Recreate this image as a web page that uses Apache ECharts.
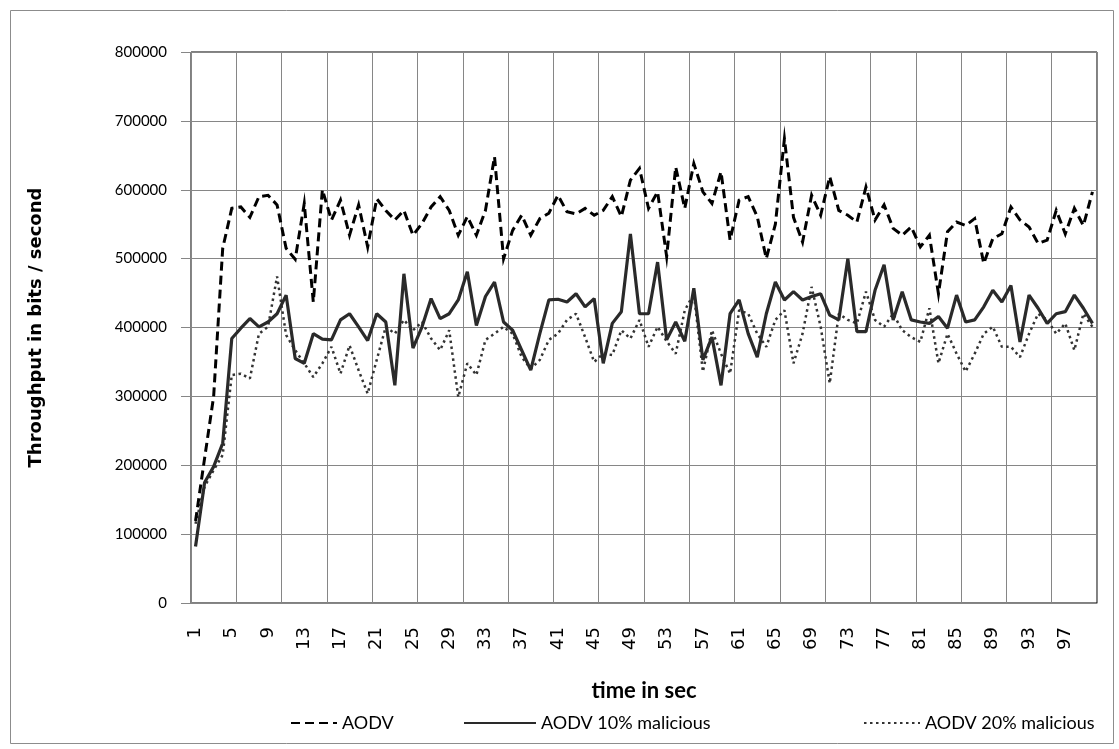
<!DOCTYPE html>
<html>
<head>
<meta charset="utf-8">
<script src="https://cdn.jsdelivr.net/npm/echarts@6/dist/echarts.min.js"></script>
<style>
html,body{margin:0;padding:0;background:#fff;}
#chart{width:1119px;height:749px;}
</style>
</head>
<body>
<div id="chart"></div>
<script>
const categories = [1,2,3,4,5,6,7,8,9,10,11,12,13,14,15,16,17,18,19,20,21,22,23,24,25,26,27,28,29,30,31,32,33,34,35,36,37,38,39,40,41,42,43,44,45,46,47,48,49,50,51,52,53,54,55,56,57,58,59,60,61,62,63,64,65,66,67,68,69,70,71,72,73,74,75,76,77,78,79,80,81,82,83,84,85,86,87,88,89,90,91,92,93,94,95,96,97,98,99,100];

const aodv = [119000,210000,300000,515000,573000,575000,560000,590000,592000,578000,
  515000,499000,580000,437000,600000,556000,585000,534000,578000,517000,
  587000,570000,556000,570000,534000,551000,575000,590000,570000,534000,
  561000,534000,570000,648000,500000,541000,563000,534000,558000,566000,
  592000,568000,565000,573000,563000,570000,590000,561000,614000,631000,
  573000,597000,503000,633000,573000,638000,597000,580000,626000,527000,
  585000,590000,561000,500000,550000,674000,560000,524000,592000,563000,
  619000,570000,563000,553000,604000,556000,578000,544000,534000,546000,
  517000,534000,449000,539000,553000,548000,558000,493000,529000,536000,
  575000,556000,546000,522000,527000,570000,536000,573000,548000,597000];

const aodv10 = [82000,175000,198000,232000,384000,399000,413000,401000,408000,420000,
  447000,355000,348000,391000,383000,382000,411000,420000,401000,381000,
  420000,408000,316000,478000,370000,401000,442000,413000,420000,440000,
  481000,403000,445000,466000,408000,396000,367000,338000,391000,440000,
  441000,437000,449000,430000,442000,348000,406000,423000,536000,420000,
  420000,495000,382000,408000,380000,457000,353000,386000,316000,420000,
  440000,391000,357000,420000,466000,440000,452000,440000,445000,449000,
  418000,411000,500000,394000,394000,454000,491000,411000,452000,411000,
  408000,406000,416000,399000,447000,408000,411000,430000,454000,437000,
  461000,379000,447000,428000,406000,420000,423000,447000,428000,406000];

const aodv20 = [115000,169000,193000,215000,331000,333000,326000,391000,401000,474000,
  389000,367000,348000,328000,348000,372000,333000,374000,338000,304000,
  353000,401000,391000,411000,396000,408000,384000,367000,396000,299000,
  348000,331000,382000,391000,401000,391000,357000,340000,353000,382000,
  391000,411000,420000,386000,350000,362000,360000,396000,384000,411000,
  372000,401000,380000,362000,425000,449000,336000,396000,362000,333000,
  425000,420000,391000,372000,411000,425000,348000,391000,459000,401000,
  319000,420000,411000,406000,452000,411000,401000,420000,396000,386000,
  379000,428000,348000,391000,362000,336000,362000,391000,401000,372000,
  372000,357000,391000,420000,411000,391000,406000,367000,420000,401000];

const yTicks = [0,100000,200000,300000,400000,500000,600000,700000,800000];
const seriesNames = ['AODV','AODV 10% malicious','AODV 20% malicious'];

const SANS = 'Lato, "Open Sans", sans-serif';
const WIDE = '"DejaVu Sans", Lato, sans-serif';
const chart = echarts.init(document.getElementById('chart'), null, {renderer:'canvas'});

const legendText = {fontFamily:SANS,fontSize:18,color:'#000'};
const legendIconStyle = {color:'rgba(0,0,0,0)',borderWidth:0,borderColor:'rgba(0,0,0,0)'};

const option = {
  backgroundColor:'#ffffff',
  animation:false,
  graphic:[{
    type:'rect', left:8, top:8, silent:true,
    shape:{width:1103,height:733},
    style:{fill:'none',stroke:'#8c8c8c',lineWidth:1}
  }],
  grid:{left:191,top:52,right:22,bottom:146,show:true,borderColor:'#000',borderWidth:1,backgroundColor:'transparent'},
  legend:[
    {data:[seriesNames[0]],left:285,top:709,itemWidth:46,itemHeight:14,itemGap:0,itemStyle:legendIconStyle,textStyle:legendText},
    {data:[seriesNames[1]],left:458,top:709,itemWidth:72,itemHeight:14,itemGap:0,itemStyle:legendIconStyle,textStyle:legendText},
    {data:[seriesNames[2]],left:858,top:709,itemWidth:56,itemHeight:14,itemGap:0,itemStyle:legendIconStyle,textStyle:legendText}
  ],
  xAxis:{
    type:'category',
    data:categories,
    boundaryGap:true,
    name:'time in sec',
    nameLocation:'middle',
    nameGap:77,
    nameTextStyle:{fontFamily:SANS,fontSize:22,fontWeight:'bold',color:'#000'},
    axisLine:{show:true,lineStyle:{color:'#868686',width:1}},
    axisTick:{show:false},
    axisLabel:{interval:3,rotate:90,margin:24,fontFamily:WIDE,fontSize:18,color:'#000'},
    splitLine:{show:true,interval:4,lineStyle:{color:'#868686',width:1}}
  },
  yAxis:{
    type:'value',
    min:yTicks[0],
    max:yTicks[yTicks.length-1],
    interval:yTicks[1]-yTicks[0],
    name:'Throughput in bits / second',
    nameLocation:'middle',
    nameGap:146,
    nameRotate:90,
    nameTextStyle:{fontFamily:WIDE,fontSize:18,fontWeight:'bold',color:'#000'},
    axisLine:{show:true,lineStyle:{color:'#868686',width:1}},
    axisTick:{show:true,length:10,lineStyle:{color:'#868686'}},
    axisLabel:{margin:24,fontFamily:SANS,fontSize:15,color:'#000',formatter:function(v){return String(v);}},
    splitLine:{show:true,lineStyle:{color:'#868686',width:1}}
  },
  series:[
    {name:seriesNames[0],type:'line',data:aodv,symbol:'none',z:4,
     lineStyle:{color:'#000',width:3,type:[9,5],cap:'butt',join:'miter'},itemStyle:{color:'#000'}},
    {name:seriesNames[1],type:'line',data:aodv10,symbol:'none',z:3,
     lineStyle:{color:'#2a2a2a',width:3.2,type:'solid'},itemStyle:{color:'#2a2a2a'}},
    {name:seriesNames[2],type:'line',data:aodv20,symbol:'none',z:2,
     lineStyle:{color:'#333',width:2.5,type:[2.5,3.5]},itemStyle:{color:'#333'}}
  ]
};
chart.setOption(option);
</script>
</body>
</html>
